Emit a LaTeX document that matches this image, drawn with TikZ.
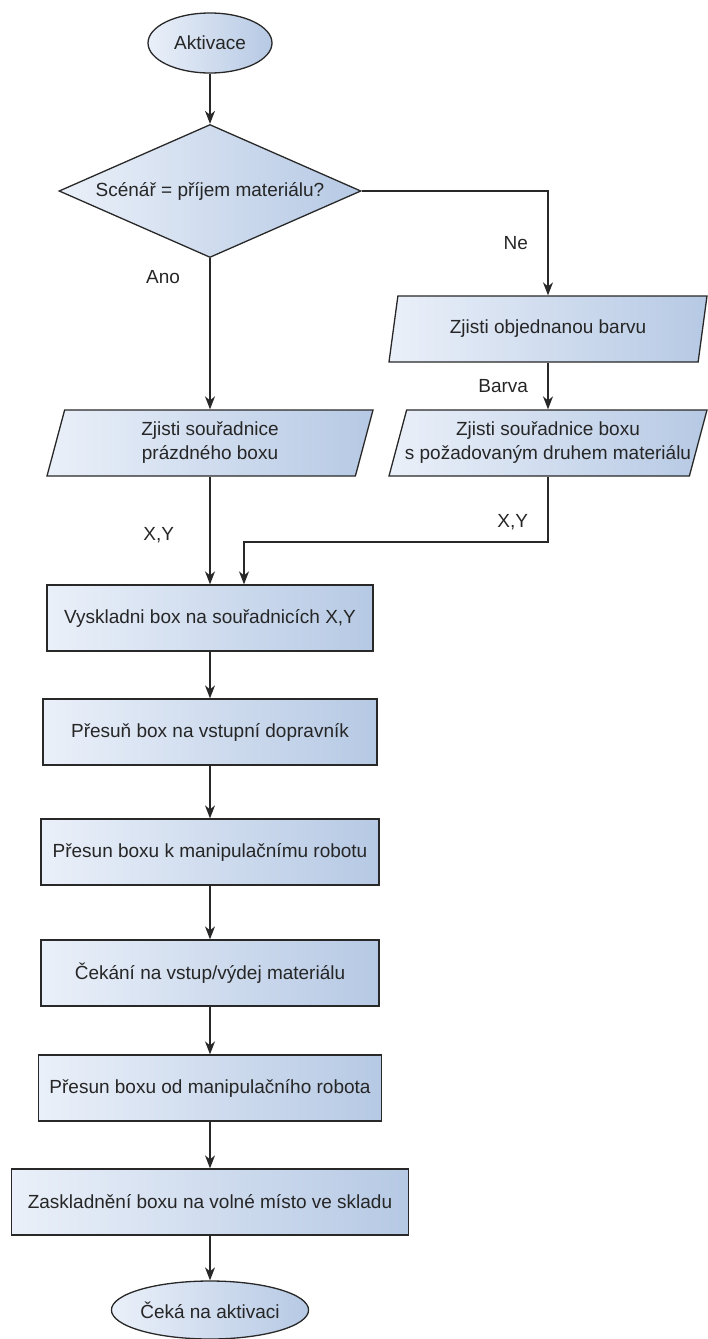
\documentclass[tikz,border=0pt]{standalone}
\usepackage{fontspec}
\setmainfont{Liberation Sans}
\usepackage{xcolor}
\definecolor{boxlight}{RGB}{234,240,249}
\definecolor{boxdark}{RGB}{182,201,228}
\definecolor{edge}{RGB}{40,40,40}
\usepackage{tikz}
\usetikzlibrary{shapes.geometric}
\usetikzlibrary{arrows.meta}

\tikzset{
  every node/.style={font=\fontsize{19}{24}\selectfont,text=black!85},
  boxfill/.style={left color=boxlight,right color=boxdark,draw=edge,line width=1.3pt},
  termin/.style={boxfill,ellipse,inner sep=0pt},
  ifnode/.style={boxfill,diamond,aspect=2.27,inner sep=0pt,minimum width=302pt,minimum height=133pt},
  dataio/.style={boxfill,trapezium,trapezium left angle=70,trapezium right angle=110,
    trapezium stretches body,minimum height=66pt,inner xsep=-20pt,align=center},
  stepbox/.style={boxfill,rectangle,minimum height=66pt,align=center},
  flow/.style={draw=edge,line width=1.4pt,-{Stealth[length=13pt,width=10pt,inset=4pt]}}
}

\begin{document}
\begin{tikzpicture}[x=1pt,y=-1pt]
\useasboundingbox (0,0) rectangle (707,1339);

% start and decision
\node[termin,minimum width=124pt,minimum height=60pt] (aktivace) at (210,43) {Aktivace};
\node[ifnode] (scenar) at (210,191) {Scénář = příjem materiálu?};

% data inputs
\node[dataio,minimum width=318pt] (barva) at (548,329) {Zjisti objednanou barvu};
\node[dataio,minimum width=318pt] (boxbarva) at (548,443) {Zjisti souřadnice boxu\\s požadovaným druhem materiálu};
\node[dataio,minimum width=326pt] (prazdny) at (210,443) {Zjisti souřadnice\\prázdného boxu};

% process steps
\node[stepbox,minimum width=326pt] (vyskladni) at (210,618) {Vyskladni box na souřadnicích X,Y};
\node[stepbox,minimum width=334pt] (presun) at (210,732) {Přesuň box na vstupní dopravník};
\node[stepbox,minimum width=338pt] (kmanip) at (210,852) {Přesun boxu k manipulačnímu robotu};
\node[stepbox,minimum width=338pt] (cekani) at (210,973) {Čekání na vstup/výdej materiálu};
\node[stepbox,minimum width=343pt] (odmanip) at (210,1088) {Přesun boxu od manipulačního robota};
\node[stepbox,minimum width=397pt] (zaskladni) at (210,1202) {Zaskladnění boxu na volné místo ve skladu};
\node[termin,minimum width=180pt,minimum height=58pt] (ceka) at (210,1310) {Čeká na aktivaci};

\coordinate (merge) at (244,542);

\draw[flow] (aktivace) -- (scenar);
\draw[flow] (scenar.east) -| node[pos=.75,left=16pt] {Ne} (barva.north -| barva.center);
\draw[flow] (scenar) -- node[pos=.125,left=26pt] {Ano} (prazdny.north -| prazdny.center);
\draw[flow] (barva.south -| barva.center) -- node[midway,left=16pt] {Barva} (boxbarva.north -| boxbarva.center);
\draw[flow] (prazdny.south -| prazdny.center) -- node[pos=.54,left=32pt] {X,Y} (vyskladni);
\draw[flow] (boxbarva.south -| boxbarva.center) |- node[pos=.35,left=16pt] {X,Y} (merge) -- (merge |- vyskladni.north);
\foreach \a/\b in {vyskladni/presun,presun/kmanip,kmanip/cekani,cekani/odmanip,odmanip/zaskladni,zaskladni/ceka}
  \draw[flow] (\a) -- (\b);
\end{tikzpicture}
\end{document}
